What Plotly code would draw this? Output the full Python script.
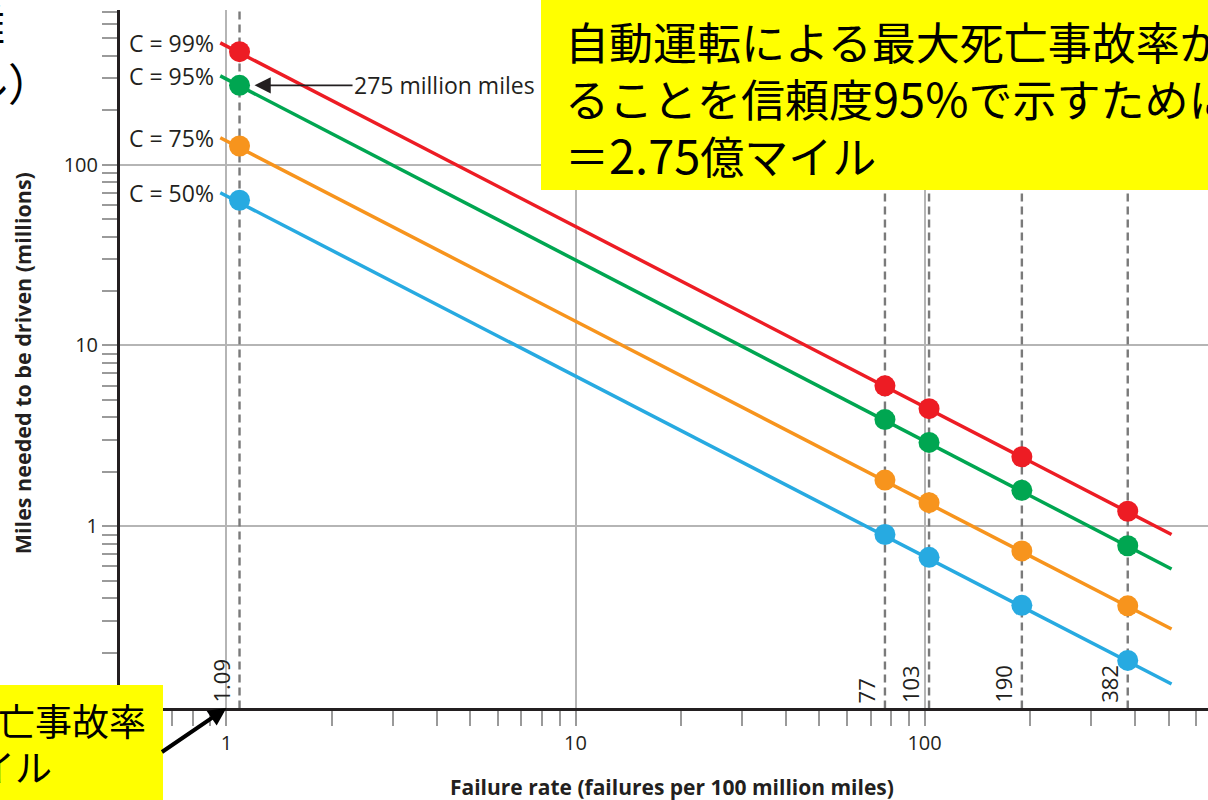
import math
import plotly.graph_objects as go

# Confidence levels and colours
conf_labels = ["C = 99%", "C = 95%", "C = 75%", "C = 50%"]
colors = ["#ED1C24", "#00A651", "#F7941D", "#27AAE1"]

# Failure rates (per 100 million miles) with markers
rates = [1.09, 77, 103, 190, 382]
rate_labels = ["1.09", "77", "103", "190", "382"]

# Miles needed (millions) at each marked failure rate
miles_c99 = [422, 5.98, 4.47, 2.42, 1.21]
miles_c95 = [275, 3.89, 2.91, 1.58, 0.78]
miles_c75 = [127, 1.80, 1.35, 0.73, 0.363]
miles_c50 = [63.6, 0.90, 0.673, 0.365, 0.181]

# Extent of each confidence line
line_rates = [0.96, 510]
line_c99 = [472, 0.90]
line_c95 = [310, 0.58]
line_c75 = [141, 0.27]
line_c50 = [70, 0.134]

marker_sets = [miles_c99, miles_c95, miles_c75, miles_c50]
line_sets = [line_c99, line_c95, line_c75, line_c50]

# Axis ticks
x_major = [1, 10, 100]
x_major_text = ["1", "10", "100"]
x_minor = [0.5, 0.6, 0.7, 0.8, 0.9, 2, 3, 4, 5, 6, 7, 8, 9,
           20, 30, 40, 50, 60, 70, 80, 90, 200, 300, 400, 500, 600]
y_major = [1, 10, 100]
y_major_text = ["1", "10", "100"]
y_minor = [0.2, 0.3, 0.4, 0.5, 0.6, 0.7, 0.8, 0.9, 2, 3, 4, 5, 6, 7, 8, 9,
           20, 30, 40, 50, 60, 70, 80, 90, 200, 300, 400, 500, 600, 700]

X_RANGE = [-0.305, 2.812]
Y_RANGE = [-1.0055, 2.856]
Y_SPAN = [0.098, 720]

TXT = "#231F20"
FONT = "Open Sans"
JP = "Noto Sans CJK JP"


def lg(v):
    # annotations on log axes are placed in log10 units
    return math.log10(v)


def num(s, size=47):
    return f'<span style="font-size:{size}px">{s}</span>'


fig = go.Figure()

# Dashed reference lines at the marked failure rates
for r in rates:
    fig.add_trace(go.Scatter(
        x=[r, r], y=Y_SPAN, mode="lines",
        line=dict(color="#7A7A7A", width=2.4, dash="8px,5px"),
        hoverinfo="skip", showlegend=False))

# Confidence lines and markers
for lab, col, lvals, mvals in zip(conf_labels, colors, line_sets, marker_sets):
    fig.add_trace(go.Scatter(
        x=line_rates, y=lvals, mode="lines",
        line=dict(color=col, width=3.5), name=lab, showlegend=False))
    fig.add_trace(go.Scatter(
        x=rates, y=mvals, mode="markers",
        marker=dict(color=col, size=21, line=dict(width=0)),
        name=lab, showlegend=False))

annotations = []

# Confidence labels at the start of each line
for lab, lvals in zip(conf_labels, line_sets):
    annotations.append(dict(
        x=lg(line_rates[0]), y=lg(lvals[0]), xref="x", yref="y",
        text=lab, showarrow=False, xanchor="right", yanchor="middle",
        xshift=-4, font=dict(family=FONT, size=23, color=TXT)))

# Rotated rate labels beside the dashed lines
for r, lab in zip(rates, rate_labels):
    annotations.append(dict(
        x=lg(r), y=0, xref="x", yref="paper", text=lab, showarrow=False,
        textangle=-90, xanchor="right", yanchor="bottom",
        xshift=-2, yshift=3, font=dict(family=FONT, size=22, color=TXT)))

# Callout for the 95% point at 1.09
annotations.append(dict(
    x=lg(1.09), y=lg(miles_c95[0]), xref="x", yref="y",
    text="275 million miles", showarrow=True, ax=205, ay=0,
    arrowhead=2, arrowsize=1.8, arrowwidth=1.8, arrowcolor=TXT,
    standoff=15, font=dict(family=FONT, size=23, color=TXT)))

# Axis titles
annotations.append(dict(
    x=0.507, y=-0.113, xref="paper", yref="paper",
    text="<b>Failure rate (failures per 100 million miles)</b>",
    showarrow=False, xanchor="center", yanchor="middle",
    font=dict(family=FONT, size=21, color=TXT)))
annotations.append(dict(
    x=-0.090, y=0.494, xref="paper", yref="paper",
    text="<b>Miles needed to be driven (millions)</b>",
    showarrow=False, textangle=-90, xanchor="center", yanchor="middle",
    font=dict(family=FONT, size=21.5, color=TXT)))

# Japanese notes
annotations.append(dict(
    x=0.4072, y=0.8754, xref="paper", yref="paper",
    text=("自動運転による最大死亡事故率が" + num("1.09") + "であ<br>"
          "ることを信頼度" + num("95%") + "で示すために必要な走行距離<br>"
          "＝" + num("2.75") + "億マイル"),
    showarrow=False, xanchor="left", yanchor="middle", align="left",
    font=dict(family=JP, size=44, color="#000000")))
annotations.append(dict(
    x=(148 - 120) / 1088, y=(708 - 720) / 698, xref="paper", yref="paper",
    text="最大死亡事故率", showarrow=False, xanchor="right", yanchor="middle",
    font=dict(family=JP, size=37, color="#000000")))
annotations.append(dict(
    x=(54 - 120) / 1088, y=(708 - 766) / 698, xref="paper", yref="paper",
    text="億マイル", showarrow=False, xanchor="right", yanchor="middle",
    font=dict(family=JP, size=37, color="#000000")))
annotations.append(dict(
    x=(7 - 120) / 1088, y=(708 - 23) / 698, xref="paper", yref="paper",
    text="走行距離", showarrow=False, xanchor="right", yanchor="middle",
    font=dict(family=JP, size=44, color="#000000")))
annotations.append(dict(
    x=(54 - 120) / 1088, y=(708 - 82) / 698, xref="paper", yref="paper",
    text="（億マイル）", showarrow=False, xanchor="right", yanchor="middle",
    font=dict(family=JP, size=44, color="#000000")))

# Arrow pointing at a failure rate of 1
annotations.append(dict(
    x=lg(1), y=0, xref="x", yref="paper", text="", showarrow=True,
    ax=-66, ay=45, arrowhead=2, arrowsize=0.9, arrowwidth=4,
    arrowcolor="#000000", standoff=0))

shapes = [
    dict(type="rect", xref="paper", yref="paper",
         x0=(541 - 120) / 1088, x1=1.1, y0=(708 - 190) / 698, y1=1.05,
         fillcolor="#FFFF00", line=dict(width=0), layer="above"),
    dict(type="rect", xref="paper", yref="paper",
         x0=-0.15, x1=(163 - 120) / 1088, y0=-0.16, y1=(708 - 685) / 698,
         fillcolor="#FFFF00", line=dict(width=0), layer="above"),
]

tick_style = dict(ticks="outside", ticklen=15, tickwidth=1.5, tickcolor="#9A9A9A")

fig.update_layout(
    width=1208, height=800,
    margin=dict(l=120, r=0, t=10, b=92),
    paper_bgcolor="white", plot_bgcolor="white",
    showlegend=False,
    annotations=annotations,
    shapes=shapes,
    xaxis=dict(
        type="log", range=X_RANGE,
        tickmode="array", tickvals=x_major, ticktext=x_major_text,
        showgrid=True, gridcolor="#B5B5B5", gridwidth=1.5,
        showline=True, linecolor="#231F20", linewidth=3,
        zeroline=False,
        tickfont=dict(family=FONT, size=20, color=TXT),
        minor=dict(tickmode="array", tickvals=x_minor, showgrid=False, **tick_style),
        **tick_style),
    yaxis=dict(
        type="log", range=Y_RANGE,
        tickmode="array", tickvals=y_major, ticktext=y_major_text,
        showgrid=True, gridcolor="#B5B5B5", gridwidth=1.5,
        showline=True, linecolor="#231F20", linewidth=3,
        zeroline=False,
        tickfont=dict(family=FONT, size=20, color=TXT),
        minor=dict(tickmode="array", tickvals=y_minor, showgrid=False, **tick_style),
        **tick_style),
)

fig.write_html("out.html")
